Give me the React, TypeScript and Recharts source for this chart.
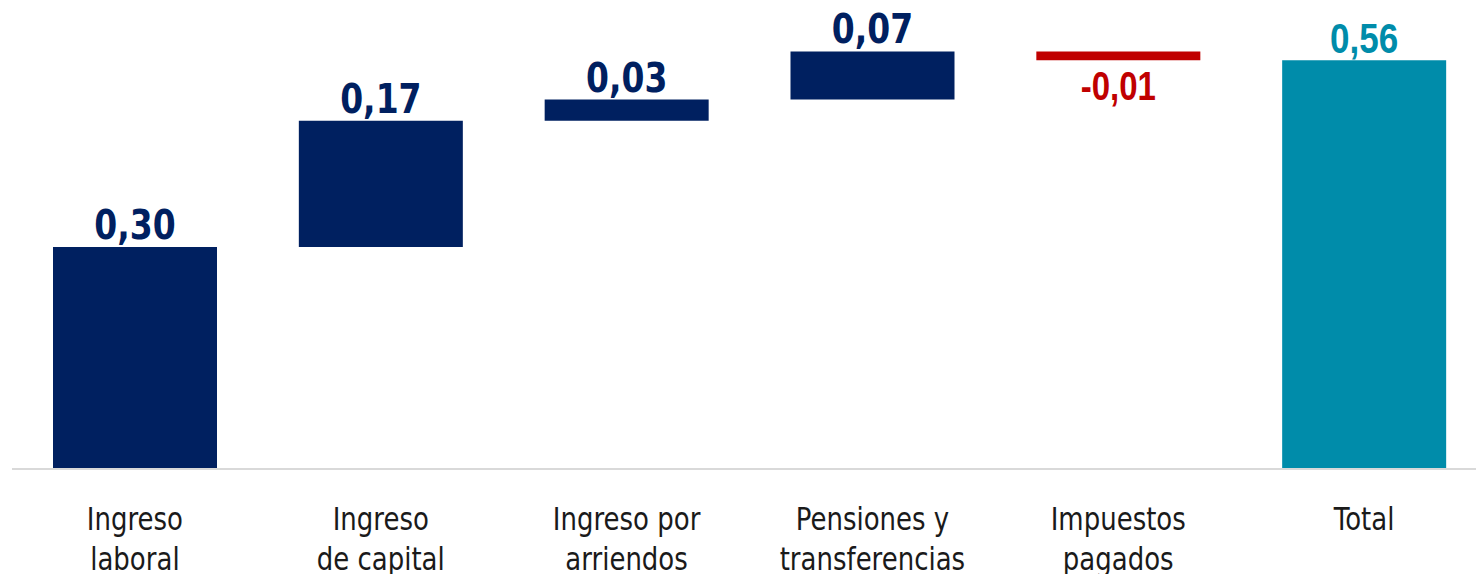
import React from 'react';
import { BarChart, Bar, XAxis, YAxis, Cell, LabelList } from 'recharts';

const categories = [
  'Ingreso laboral',
  'Ingreso de capital',
  'Ingreso por arriendos',
  'Pensiones y transferencias',
  'Impuestos pagados',
  'Total',
];
const tickLines = [
  ['Ingreso', 'laboral'],
  ['Ingreso', 'de capital'],
  ['Ingreso por', 'arriendos'],
  ['Pensiones y', 'transferencias'],
  ['Impuestos', 'pagados'],
  ['Total'],
];
const contributions = [0.304, 0.173, 0.029, 0.066, -0.012];
const totalValue = 0.56;

const NAVY = '#002060';
const TEAL = '#008CAA';
const RED = '#C00000';

type Row = { name: string; base: number; size: number; value: number; kind: string };

const data: Row[] = (() => {
  let run = 0;
  const rows: Row[] = contributions.map((v, i) => {
    const start = run;
    const end = run + v;
    run = end;
    return {
      name: categories[i],
      base: Math.min(start, end),
      size: Math.abs(v),
      value: v,
      kind: v >= 0 ? 'pos' : 'neg',
    };
  });
  rows.push({ name: categories[5], base: 0, size: totalValue, value: totalValue, kind: 'total' });
  return rows;
})();

const colorOf = (kind: string) => (kind === 'neg' ? RED : kind === 'total' ? TEAL : NAVY);

const renderLabel = (props: any) => {
  const vb = props.viewBox || {};
  const x = Number(props.x ?? vb.x);
  const y = Number(props.y ?? vb.y);
  const width = Number(props.width ?? vb.width);
  const height = Number(props.height ?? vb.height);
  const d = data[props.index];
  if (!d) return null;
  const cx = x + width / 2;
  const text = d.value.toFixed(2).replace('.', ',');
  let baseline: number;
  let family: string;
  let size: number;
  if (d.kind === 'neg') {
    baseline = y + Math.abs(height) + 40;
    family = '"Liberation Sans", Arial, sans-serif';
    size = 33;
  } else if (d.kind === 'total') {
    baseline = y - 7.5;
    family = '"Liberation Sans", Arial, sans-serif';
    size = 35;
  } else {
    baseline = y - 8;
    family = '"DejaVu Sans", Verdana, sans-serif';
    size = 33;
  }
  return (
    <text
      x={0}
      y={0}
      transform={`translate(${cx},${baseline}) scale(1,1.22)`}
      textAnchor="middle"
      fill={colorOf(d.kind)}
      fontFamily={family}
      fontWeight="bold"
      fontSize={size}
    >
      {text}
    </text>
  );
};

const Tick = (props: any) => {
  const { x, y, payload } = props;
  const idx = categories.indexOf(payload.value);
  const lines = tickLines[idx] || [payload.value];
  return (
    <g>
      {lines.map((ln, i) => (
        <text
          key={i}
          x={0}
          y={0}
          transform={`translate(${x},${y + 61 + i * 40}) scale(1,1.2)`}
          textAnchor="middle"
          fill="#1a1a1a"
          fontFamily='"DejaVu Sans", Verdana, sans-serif'
          fontSize={26}
        >
          {ln}
        </text>
      ))}
    </g>
  );
};

export default function App() {
  return (
    <div
      style={{
        position: 'absolute',
        left: 0,
        top: 0,
        width: 1476,
        height: 574,
        overflow: 'hidden',
        background: '#ffffff',
      }}
    >
      <BarChart
        width={1500}
        height={574}
        data={data}
        margin={{ top: 31, right: 13, bottom: 0, left: 12 }}
        barSize={164}
      >
        <YAxis hide domain={[0, 0.6]} type="number" />
        <XAxis
          dataKey="name"
          interval={0}
          height={105}
          tickLine={false}
          tickSize={0}
          tickMargin={0}
          axisLine={{ stroke: '#d9d9d9', strokeWidth: 2 }}
          tick={<Tick />}
        />
        <Bar dataKey="base" stackId="w" fill="transparent" isAnimationActive={false} />
        <Bar dataKey="size" stackId="w" isAnimationActive={false}>
          {data.map((d, i) => (
            <Cell key={i} fill={colorOf(d.kind)} />
          ))}
          <LabelList dataKey="size" content={renderLabel} />
        </Bar>
      </BarChart>
    </div>
  );
}
